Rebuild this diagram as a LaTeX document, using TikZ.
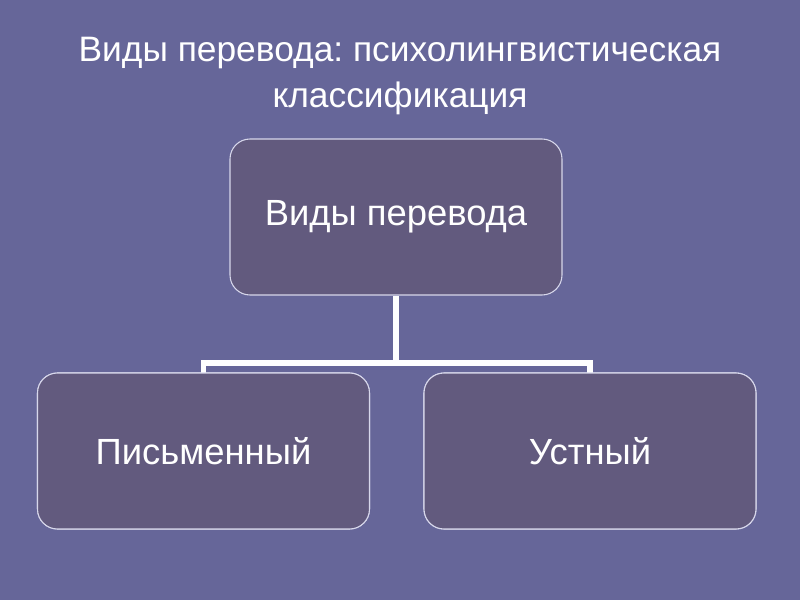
\documentclass[tikz,border=0pt]{standalone}
\usepackage{fontspec}
\setmainfont{Liberation Sans}
\frenchspacing
\definecolor{bg}{RGB}{102,102,153}
\definecolor{boxfill}{RGB}{98,90,126}
\definecolor{boxline}{RGB}{215,215,235}
\begin{document}
\begin{tikzpicture}[x=0.75pt,y=-0.75pt,
  card/.style={draw=boxline,line width=0.8pt,fill=boxfill,rounded corners=15pt,
    minimum width=249pt,minimum height=117pt,inner sep=0pt,text=white,
    font=\fontsize{27.3}{32}\selectfont},
  link/.style={draw=white,line width=3.8pt},
  title/.style={text=white,font=\fontsize{26.5}{34}\selectfont,align=center}]
\fill[bg] (0,0) rectangle (800,600);
\useasboundingbox (0,0) rectangle (800,600);
\node[title] (t) at (400,76) {Виды перевода: психолингвистическая\\классификация};
\node[card] (top) at (396,217) {Виды перевода};
\node[card] (l) at (203.5,451) {Письменный};
\node[card] (r) at (590,451) {Устный};
\coordinate (j) at (396,363);
\draw[link] (top.south) -- (j);
\draw[link,line cap=rect] (l.north) |- (j) -| (r.north);
\node[card] at (l) {Письменный};
\node[card] at (r) {Устный};
\end{tikzpicture}
\end{document}
